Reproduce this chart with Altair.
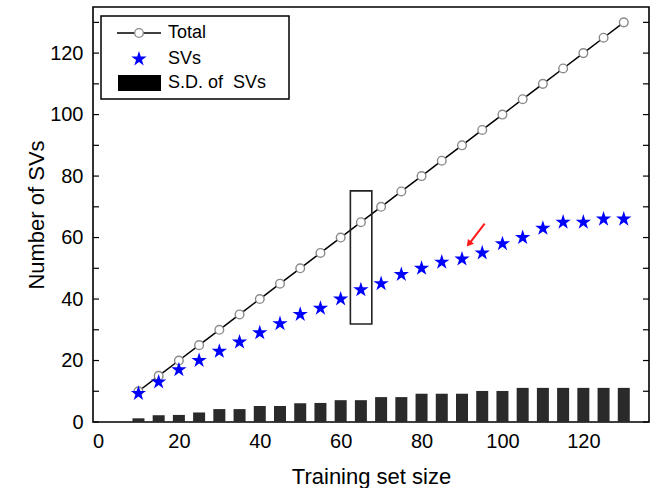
import altair as alt
import pandas as pd

# ---- data ----
sizes = [10, 15, 20, 25, 30, 35, 40, 45, 50, 55, 60, 65, 70, 75, 80, 85, 90, 95, 100, 105, 110, 115, 120, 125, 130]
total = [10, 15, 20, 25, 30, 35, 40, 45, 50, 55, 60, 65, 70, 75, 80, 85, 90, 95, 100, 105, 110, 115, 120, 125, 130]
svs = [9.3, 13, 17, 20, 23, 26, 29, 32, 35, 37, 40, 43, 45, 48, 50, 52, 53, 55, 58, 60, 63, 65, 65, 66, 66]
sd_svs = [1.2, 2.2, 2.3, 3.1, 4.2, 4.2, 5.2, 5.2, 6.1, 6.2, 7.1, 7.1, 8.1, 8.1, 9.2, 9.2, 9.2, 10.1, 10.1,
          11.1, 11.1, 11.1, 11.1, 11.1, 11.1]

y_ticks = [0, 10, 20, 30, 40, 50, 60, 70, 80, 90, 100, 110, 120, 130]
label_vals = [0, 20, 40, 60, 80, 100, 120]

# annotation (data units)
box_x = [62.4]
box_x2 = [67.7]
box_y = [31.9]
box_y2 = [75.2]
arrow_tail = [95.6, 64.5]
arrow_tip = [90.8, 56.4]

legend_labels = ["Total", "SVs", "S.D. of\u00a0 SVs"]

FONT = "Liberation Sans"
W, H = 556, 415
STAR = ("M0,-1L0.2245,-0.309L0.951,-0.309L0.363,0.118L0.588,0.809L0,0.382"
        "L-0.588,0.809L-0.363,0.118L-0.951,-0.309L-0.2245,-0.309Z")

df = pd.DataFrame({"size": sizes, "total": total, "svs": svs, "sd": sd_svs})

xs = alt.Scale(domain=[0, 135], nice=False, zero=False)
ys = alt.Scale(domain=[0, 135], nice=False, zero=False)

x_axis = alt.Axis(values=label_vals, title="Training set size",
                  grid=False, ticks=False, domain=False, labelPadding=9, titlePadding=15)
y_axis = alt.Axis(values=label_vals, title="Number of SVs",
                  grid=False, ticks=False, domain=False, labelPadding=10, titlePadding=1)


def X(f):
    return alt.X(f, scale=xs, axis=x_axis)


def Y(f):
    return alt.Y(f, scale=ys, axis=y_axis)


bars = alt.Chart(df).mark_bar(size=12, color="#2a2a2a").encode(x=X("size:Q"), y=Y("sd:Q"))
line = alt.Chart(df).mark_line(color="black", strokeWidth=1.5).encode(x=X("size:Q"), y=Y("total:Q"))
circles = alt.Chart(df).mark_point(shape="circle", filled=True, fill="white", stroke="#8a8a8a",
                                   strokeWidth=1.4, size=75, opacity=1).encode(
    x=X("size:Q"), y=Y("total:Q"))
stars = alt.Chart(df).mark_point(shape=STAR, filled=True, color="#0000ff", size=260, opacity=1).encode(
    x=X("size:Q"), y=Y("svs:Q"))

# inward ticks on left and right
tdf = pd.DataFrame({"v": y_ticks})
lticks = alt.Chart(tdf).mark_rule(color="black", strokeWidth=1.2).encode(
    y=Y("v:Q"), x=alt.value(0), x2=alt.value(6))
rticks = alt.Chart(tdf).mark_rule(color="black", strokeWidth=1.2).encode(
    y=Y("v:Q"), x=alt.value(W - 6), x2=alt.value(W))

# annotation box
bdf = pd.DataFrame({"x": box_x, "x2": box_x2, "y": box_y, "y2": box_y2})
box = alt.Chart(bdf).mark_rect(fillOpacity=0, stroke="#222222", strokeWidth=1.6).encode(
    x=X("x:Q"), x2="x2:Q", y=Y("y:Q"), y2="y2:Q")

# red arrow
adf = pd.DataFrame({"x": [arrow_tail[0]], "y": [arrow_tail[1]],
                    "x2": [arrow_tip[0] + 1.0], "y2": [arrow_tip[1] + 1.6]})
arrow_line = alt.Chart(adf).mark_rule(color="#ff1a1a", strokeWidth=2).encode(
    x=X("x:Q"), y=Y("y:Q"), x2="x2:Q", y2="y2:Q")
hdf = pd.DataFrame({"x": [arrow_tip[0] + 0.9], "y": [arrow_tip[1] + 1.5]})
arrow_head = alt.Chart(hdf).mark_point(shape="triangle-up", filled=True, color="#ff1a1a",
                                       size=60, angle=219, opacity=1).encode(
    x=X("x:Q"), y=Y("y:Q"))

# manual legend (pixel positions inside plot area)
one = pd.DataFrame({"a": [0]})
leg_box = alt.Chart(one).mark_rect(fill="white", stroke="black", strokeWidth=1.5).encode(
    x=alt.value(8), x2=alt.value(196), y=alt.value(9), y2=alt.value(92))
leg_line = alt.Chart(one).mark_rule(color="black", strokeWidth=1.5).encode(
    x=alt.value(24), x2=alt.value(68), y=alt.value(26))
leg_circle = alt.Chart(one).mark_point(shape="circle", filled=True, fill="white", stroke="#8a8a8a",
                                       strokeWidth=1.4, size=75, opacity=1).encode(
    x=alt.value(46), y=alt.value(26))
leg_star = alt.Chart(one).mark_point(shape=STAR, filled=True, color="#0000ff", size=260, opacity=1).encode(
    x=alt.value(46), y=alt.value(52))
leg_rect = alt.Chart(one).mark_rect(color="black").encode(
    x=alt.value(25), x2=alt.value(68), y=alt.value(68), y2=alt.value(84))
leg_texts = [
    alt.Chart(one).mark_text(align="left", baseline="middle", font=FONT, fontSize=18,
                             color="black", text=t).encode(x=alt.value(75), y=alt.value(yy))
    for t, yy in zip(legend_labels, [26, 52, 76])
]

chart = alt.layer(
    bars, line, circles, stars, lticks, rticks, box, arrow_line, arrow_head,
    leg_box, leg_line, leg_circle, leg_star, leg_rect, *leg_texts
).properties(
    width=W, height=H,
    autosize=alt.AutoSizeParams(type="none"),
    padding={"left": 93, "top": 7, "right": 7, "bottom": 66},
    background="white",
).configure_view(
    stroke="black", strokeWidth=1.6
).configure_axis(
    labelFont=FONT, titleFont=FONT, labelFontSize=20, titleFontSize=22,
    titleFontWeight="normal", labelColor="black", titleColor="black"
)

chart.save("out.html", embed_options={"renderer": "svg", "actions": False})
